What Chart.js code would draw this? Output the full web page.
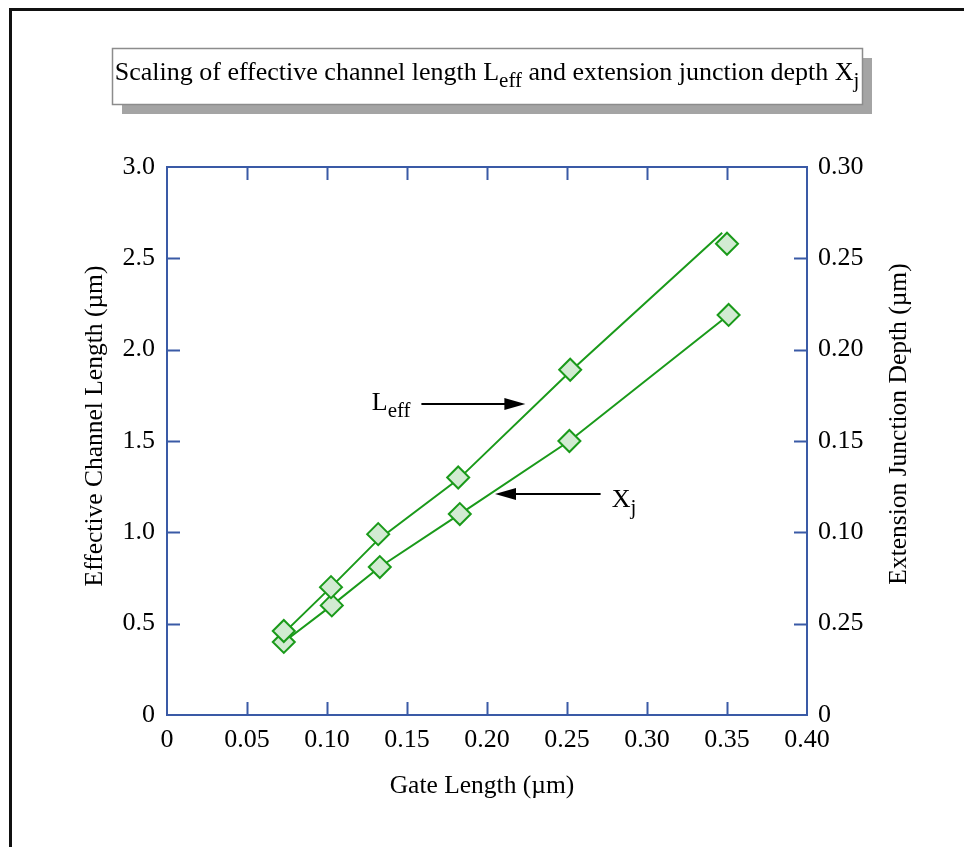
<!DOCTYPE html>
<html>
<head>
<meta charset="utf-8">
<script src="https://cdn.jsdelivr.net/npm/chart.js@4.4.1/dist/chart.umd.min.js"></script>
<style>
  html, body { margin: 0; padding: 0; background: #fff; }
  #wrap { width: 964px; height: 847px; position: relative; }
</style>
</head>
<body>
<div id="wrap"><canvas id="c" width="964" height="847"></canvas></div>
<script>
// ---- Data ----
const xTickLabels = ['0', '0.05', '0.10', '0.15', '0.20', '0.25', '0.30', '0.35', '0.40'];
const leftTickLabels = ['0', '0.5', '1.0', '1.5', '2.0', '2.5', '3.0'];
const rightTickLabels = ['0', '0.25', '0.10', '0.15', '0.20', '0.25', '0.30'];

// Effective channel length (µm) markers
const leffGate = [0.073, 0.1025, 0.132, 0.182, 0.252, 0.350];
const leffValues = [0.46, 0.70, 0.99, 1.30, 1.89, 2.58];
// Leff trend line
const leffLineGate = [0.072, 0.1025, 0.132, 0.182, 0.252, 0.347];
const leffLineValues = [0.44, 0.70, 0.96, 1.29, 1.88, 2.64];

// Extension junction depth (µm) markers + line
const xjGate = [0.073, 0.103, 0.133, 0.183, 0.2515, 0.351];
const xjValues = [0.040, 0.060, 0.081, 0.110, 0.150, 0.219];

// Annotation anchors (data units)
const leffLabel = { x: 0.128, y: 1.67 };
const leffArrowX = [0.159, 0.224];
const leffArrowY = 1.70;
const xjLabel = { x: 0.278, y: 1.14 };
const xjArrowX = [0.271, 0.205];
const xjArrowY = 1.21;

const titleParts = [['Scaling of effective channel length L', false], ['eff', true], [' and extension junction depth X', false], ['j', true]];

// ---- Styling ----
const FONT = '"Liberation Serif", "Times New Roman", serif';
const GREEN = '#1a9a1a';
const FILL = '#d2ebd2';
const AXIS = '#3a5aa6';

const pts = (xs, ys) => xs.map((v, i) => ({ x: v, y: ys[i] }));

function drawRich(ctx, parts, x, baseline, size, align) {
  const sub = Math.round(size * 0.8);
  let total = 0;
  const widths = parts.map(([t, s]) => {
    ctx.font = (s ? sub : size) + 'px ' + FONT;
    const w = ctx.measureText(t).width; total += w; return w;
  });
  let cx = align === 'center' ? x - total / 2 : x;
  ctx.textAlign = 'left';
  ctx.textBaseline = 'alphabetic';
  parts.forEach(([t, s], i) => {
    ctx.font = (s ? sub : size) + 'px ' + FONT;
    ctx.fillText(t, cx, baseline + (s ? size * 0.28 : 0));
    cx += widths[i];
  });
}

function arrow(ctx, x1, y, x2) {
  ctx.strokeStyle = '#000'; ctx.fillStyle = '#000'; ctx.lineWidth = 2;
  const dir = Math.sign(x2 - x1);
  ctx.beginPath(); ctx.moveTo(x1, y); ctx.lineTo(x2 - dir * 14, y); ctx.stroke();
  ctx.beginPath();
  ctx.moveTo(x2, y); ctx.lineTo(x2 - dir * 21, y - 6); ctx.lineTo(x2 - dir * 21, y + 6); ctx.closePath(); ctx.fill();
}

const deco = {
  id: 'deco',
  beforeDraw(chart) {
    const ctx = chart.ctx;
    ctx.save(); ctx.fillStyle = '#fff'; ctx.fillRect(0, 0, chart.width, chart.height); ctx.restore();
  },
  afterDraw(chart) {
    const { ctx, chartArea: a, scales: { x, y, y2 } } = chart;
    ctx.save();
    // outer frame
    ctx.strokeStyle = '#111'; ctx.lineWidth = 3;
    ctx.strokeRect(10.5, 9.5, 1200, 1200);

    // title box with shadow
    ctx.fillStyle = '#a4a4a4'; ctx.fillRect(122, 58, 750, 56);
    ctx.fillStyle = '#fff'; ctx.fillRect(112, 48, 750, 56);
    ctx.strokeStyle = '#8c8c8c'; ctx.lineWidth = 1.5; ctx.strokeRect(112.5, 48.5, 750, 56);
    ctx.fillStyle = '#000';
    drawRich(ctx, titleParts, 487, 80, 26, 'center');

    // plot frame
    ctx.strokeStyle = AXIS; ctx.lineWidth = 2;
    ctx.strokeRect(a.left, a.top, a.right - a.left, a.bottom - a.top);
    const TL = 13;
    ctx.beginPath();
    x.ticks.forEach((t, i) => {
      if (i === 0 || i === x.ticks.length - 1) return;
      const px = Math.round(x.getPixelForValue(t.value)) + 0.5;
      ctx.moveTo(px, a.bottom); ctx.lineTo(px, a.bottom - TL);
      ctx.moveTo(px, a.top); ctx.lineTo(px, a.top + TL);
    });
    y.ticks.forEach((t, i) => {
      if (i === 0 || i === y.ticks.length - 1) return;
      const py = Math.round(y.getPixelForValue(t.value)) + 0.5;
      ctx.moveTo(a.left, py); ctx.lineTo(a.left + TL, py);
    });
    y2.ticks.forEach((t, i) => {
      if (i === 0 || i === y2.ticks.length - 1) return;
      const py = Math.round(y2.getPixelForValue(t.value)) + 0.5;
      ctx.moveTo(a.right, py); ctx.lineTo(a.right - TL, py);
    });
    ctx.stroke();

    // annotations
    ctx.fillStyle = '#000';
    drawRich(ctx, [['L', false], ['eff', true]], x.getPixelForValue(leffLabel.x), y.getPixelForValue(leffLabel.y), 26, 'left');
    arrow(ctx, x.getPixelForValue(leffArrowX[0]), Math.round(y.getPixelForValue(leffArrowY)), x.getPixelForValue(leffArrowX[1]));
    ctx.fillStyle = '#000';
    drawRich(ctx, [['X', false], ['j', true]], x.getPixelForValue(xjLabel.x), y.getPixelForValue(xjLabel.y), 26, 'left');
    arrow(ctx, x.getPixelForValue(xjArrowX[0]), Math.round(y.getPixelForValue(xjArrowY)), x.getPixelForValue(xjArrowX[1]));

    // axis titles
    ctx.fillStyle = '#000';
    ctx.font = '25.5px ' + FONT;
    ctx.textAlign = 'center'; ctx.textBaseline = 'middle';
    ctx.fillText('Gate Length (µm)', 482, 786);
    ctx.save(); ctx.translate(95, 426); ctx.rotate(-Math.PI / 2);
    ctx.fillText('Effective Channel Length (µm)', 0, 0); ctx.restore();
    ctx.save(); ctx.translate(899, 424); ctx.rotate(-Math.PI / 2);
    ctx.fillText('Extension Junction Depth (µm)', 0, 0); ctx.restore();
    ctx.restore();
  }
};

const tickFont = { family: FONT, size: 26 };

new Chart(document.getElementById('c'), {
  type: 'scatter',
  data: {
    datasets: [
      { label: 'Leff', data: pts(leffGate, leffValues), yAxisID: 'y', showLine: false,
        pointStyle: 'rectRot', pointRadius: 11, pointBackgroundColor: FILL, pointBorderColor: GREEN, pointBorderWidth: 2, order: 0 },
      { label: 'Xj', data: pts(xjGate, xjValues), yAxisID: 'y2', showLine: false,
        pointStyle: 'rectRot', pointRadius: 11, pointBackgroundColor: FILL, pointBorderColor: GREEN, pointBorderWidth: 2, order: 1 },
      { label: 'Leff fit', data: pts(leffLineGate, leffLineValues), yAxisID: 'y', showLine: true,
        borderColor: GREEN, borderWidth: 2, pointRadius: 0, fill: false, order: 2 },
      { label: 'Xj fit', data: pts(xjGate, xjValues), yAxisID: 'y2', showLine: true,
        borderColor: GREEN, borderWidth: 2, pointRadius: 0, fill: false, order: 3 }
    ]
  },
  options: {
    responsive: false,
    animation: false,
    layout: { padding: { top: 167, left: 0, right: 0, bottom: 0 } },
    plugins: { legend: { display: false }, tooltip: { enabled: false }, title: { display: false } },
    scales: {
      x: {
        type: 'linear', position: 'bottom', min: 0, max: 0.4,
        grid: { display: false, drawTicks: false }, border: { display: false },
        ticks: { stepSize: 0.05, font: tickFont, color: '#000', padding: 10, maxRotation: 0, autoSkip: false,
          callback: (v, i) => xTickLabels[i] },
        afterFit: s => { s.height = 132; }
      },
      y: {
        type: 'linear', position: 'left', min: 0, max: 3,
        grid: { display: false, drawTicks: false }, border: { display: false },
        ticks: { stepSize: 0.5, font: tickFont, color: '#000', padding: 12, autoSkip: false,
          callback: (v, i) => leftTickLabels[i] },
        afterFit: s => { s.width = 167; }
      },
      y2: {
        type: 'linear', position: 'right', min: 0, max: 0.3,
        grid: { display: false, drawTicks: false }, border: { display: false },
        ticks: { stepSize: 0.05, font: tickFont, color: '#000', padding: 11, autoSkip: false,
          callback: (v, i) => rightTickLabels[i] },
        afterFit: s => { s.width = 157; }
      }
    }
  },
  plugins: [deco]
});
</script>
</body>
</html>
